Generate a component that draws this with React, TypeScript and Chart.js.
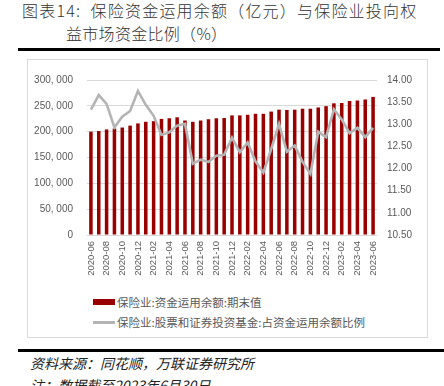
import React, { useEffect, useRef } from 'react';
import { Chart, registerables } from 'chart.js';

Chart.register(...registerables);

const months = [
  '2020-06', '2020-07', '2020-08', '2020-09', '2020-10', '2020-11', '2020-12',
  '2021-01', '2021-02', '2021-03', '2021-04', '2021-05', '2021-06', '2021-07',
  '2021-08', '2021-09', '2021-10', '2021-11', '2021-12', '2022-01', '2022-02',
  '2022-03', '2022-04', '2022-05', '2022-06', '2022-07', '2022-08', '2022-09',
  '2022-10', '2022-11', '2022-12', '2023-01', '2023-02', '2023-03', '2023-04',
  '2023-05', '2023-06',
];

// 保险业:资金运用余额:期末值 (亿元)
const fundBalance = [
  200000, 201200, 204300, 206200, 208000, 211700, 216000, 219100, 220400,
  224700, 225900, 227800, 221600, 219100, 221600, 224100, 225900, 226500,
  231500, 231500, 232700, 234600, 234600, 238900, 242600, 242000, 242600,
  244400, 244400, 246900, 249400, 254900, 255600, 259300, 260500, 262300,
  267300,
];

// 保险业:股票和证券投资基金:占资金运用余额比例 (%)
const equityRatio = [
  13.33, 13.66, 13.46, 12.93, 13.17, 13.3, 13.75, 13.44, 13.19, 12.76, 12.82,
  12.97, 13.01, 12.11, 12.2, 12.15, 12.29, 12.31, 12.7, 12.37, 12.59, 12.16,
  11.91, 12.44, 13.01, 12.38, 12.52, 12.15, 11.88, 12.83, 12.71, 13.34, 13.11,
  12.8, 12.92, 12.71, 12.92,
];

const barLabel = '保险业:资金运用余额:期末值';
const lineLabel = '保险业:股票和证券投资基金:占资金运用余额比例';

const BAR_COLOR = '#990000';
const LINE_COLOR = '#b4b4b4';
const TICK_COLOR = '#595959';
const GRID_COLOR = '#d9d9d9';

function fmtThousands(v: number): string {
  const s = Math.round(v).toString();
  if (s.length <= 3) return s;
  return s.slice(0, s.length - 3) + ', ' + s.slice(s.length - 3);
}

export default function App() {
  const canvasRef = useRef<HTMLCanvasElement | null>(null);

  useEffect(() => {
    if (!canvasRef.current) return;
    const tickFont = { family: '"Liberation Sans", Arial, sans-serif', size: 10 };
    const chart = new Chart(canvasRef.current, {
      data: {
        labels: months,
        datasets: [
          {
            type: 'line',
            label: lineLabel,
            data: equityRatio,
            yAxisID: 'y1',
            borderColor: LINE_COLOR,
            backgroundColor: LINE_COLOR,
            borderWidth: 2.6,
            pointRadius: 0,
            tension: 0,
            order: 0,
          },
          {
            type: 'bar',
            label: barLabel,
            data: fundBalance,
            yAxisID: 'y',
            backgroundColor: BAR_COLOR,
            borderWidth: 0,
            barPercentage: 0.45,
            categoryPercentage: 1,
            order: 1,
          },
        ],
      } as any,
      options: {
        animation: false,
        responsive: false,
        maintainAspectRatio: false,
        layout: { padding: { top: 12, left: 0, right: 0, bottom: 0 } },
        plugins: {
          legend: { display: false },
          tooltip: { enabled: false },
        },
        scales: {
          x: {
            grid: { display: false, drawTicks: false },
            border: { display: false },
            ticks: {
              autoSkip: false,
              minRotation: 90,
              maxRotation: 90,
              padding: 6,
              color: TICK_COLOR,
              font: { ...tickFont, size: 9.5 },
              callback: (_v: any, i: number) => (i % 2 === 0 ? months[i] : ''),
            },
            afterFit: (s: any) => {
              s.height = 55;
            },
          },
          y: {
            position: 'left',
            min: 0,
            max: 300000,
            grid: { color: GRID_COLOR, lineWidth: 1, drawTicks: false },
            border: { display: false },
            ticks: {
              stepSize: 50000,
              padding: 14,
              color: TICK_COLOR,
              font: tickFont,
              callback: (v: any) => fmtThousands(Number(v)),
            },
            afterFit: (s: any) => {
              s.width = 59;
            },
          },
          y1: {
            position: 'right',
            min: 10.5,
            max: 14,
            grid: { display: false, drawTicks: false },
            border: { display: false },
            ticks: {
              stepSize: 0.5,
              padding: 10,
              color: TICK_COLOR,
              font: tickFont,
              callback: (v: any) => Number(v).toFixed(2),
            },
            afterFit: (s: any) => {
              s.width = 49;
            },
          },
        },
      } as any,
    });
    return () => chart.destroy();
  }, []);

  const cjk = '"Noto Sans CJK SC", "Noto Sans", sans-serif';

  return (
    <div
      style={{
        position: 'absolute',
        left: 0,
        top: 0,
        width: 444,
        height: 386,
        overflow: 'hidden',
        background: '#ffffff',
        fontFamily: cjk,
      }}
    >
      <div
        style={{
          position: 'absolute',
          left: 22,
          top: -1,
          fontSize: 16,
          lineHeight: '22px',
          color: '#333',
          fontWeight: 300,
          whiteSpace: 'nowrap',
          letterSpacing: 1.2,
        }}
      >
        图表14:&nbsp;&nbsp;保险资金运用余额（亿元）与保险业投向权
      </div>
      <div
        style={{
          position: 'absolute',
          left: 66,
          top: 22,
          fontSize: 16,
          lineHeight: '22px',
          color: '#333',
          fontWeight: 300,
          whiteSpace: 'nowrap',
          letterSpacing: 0.3,
        }}
      >
        益市场资金比例（%）
      </div>
      <div style={{ position: 'absolute', left: 18, top: 48, width: 422, height: 3, background: '#000' }} />
      <div
        style={{
          position: 'absolute',
          left: 27,
          top: 59,
          width: 399,
          height: 277,
          border: '1px solid ' + GRID_COLOR,
        }}
      />
      <canvas
        ref={canvasRef}
        width={398}
        height={230}
        style={{ position: 'absolute', left: 28, top: 60, width: 398, height: 230 }}
      />
      <div style={{ position: 'absolute', left: 93, top: 299, width: 22, height: 6, background: BAR_COLOR }} />
      <div
        style={{
          position: 'absolute',
          left: 117,
          top: 294,
          fontSize: 11.5,
          lineHeight: '16px',
          color: TICK_COLOR,
          whiteSpace: 'nowrap',
        }}
      >
        {barLabel}
      </div>
      <div style={{ position: 'absolute', left: 93, top: 321, width: 22, height: 3, background: LINE_COLOR }} />
      <div
        style={{
          position: 'absolute',
          left: 117,
          top: 314,
          fontSize: 11.5,
          lineHeight: '16px',
          color: TICK_COLOR,
          whiteSpace: 'nowrap',
        }}
      >
        {lineLabel}
      </div>
      <div style={{ position: 'absolute', left: 18, top: 349, width: 426, height: 3, background: '#000' }} />
      <div
        style={{
          position: 'absolute',
          left: 30,
          top: 354,
          fontSize: 14,
          lineHeight: '18px',
          color: '#222',
          fontStyle: 'italic',
          whiteSpace: 'nowrap',
        }}
      >
        资料来源：同花顺，万联证券研究所
      </div>
      <div
        style={{
          position: 'absolute',
          left: 30,
          top: 376,
          fontSize: 14,
          lineHeight: '18px',
          color: '#222',
          fontStyle: 'italic',
          whiteSpace: 'nowrap',
        }}
      >
        注：数据截至2023年6月30日
      </div>
    </div>
  );
}
